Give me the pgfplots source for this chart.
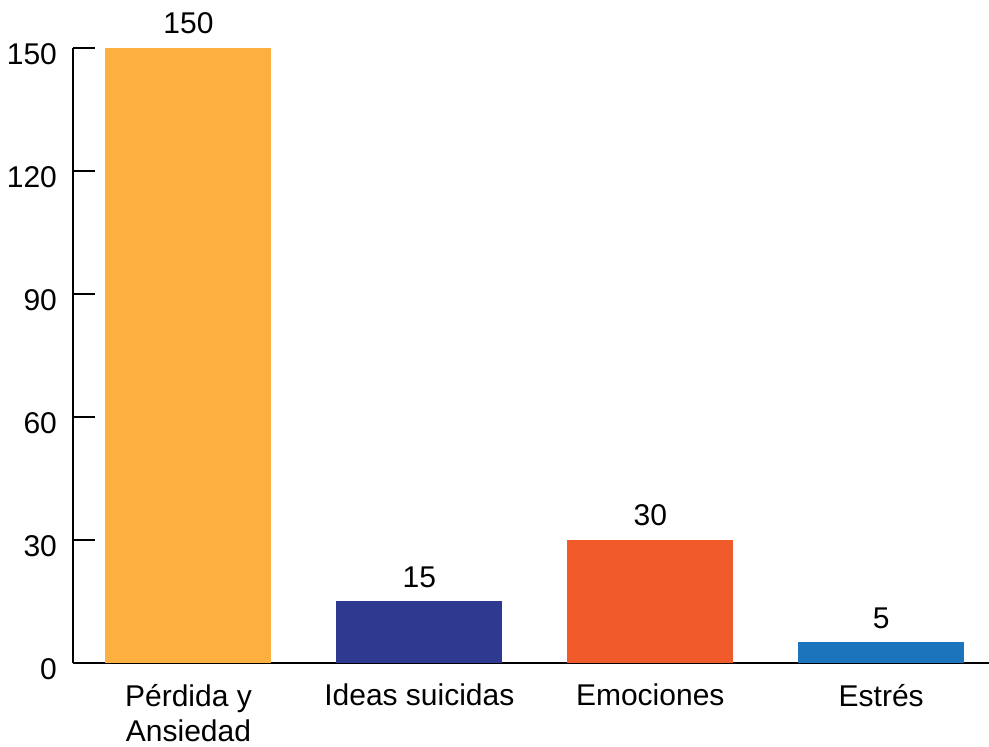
\documentclass[border=0pt]{standalone}
\usepackage{pgfplots}
\pgfplotsset{compat=1.18}
\usepackage{fontspec}
\setmainfont{Liberation Sans}

\definecolor{barA}{HTML}{FBB040}
\definecolor{barB}{HTML}{2E3990}
\definecolor{barC}{HTML}{F15A2B}
\definecolor{barD}{HTML}{1C75BC}

\begin{document}
\begin{tikzpicture}
\begin{axis}[
    scale only axis,
    width=458pt, height=307.5pt,
    xmin=-0.5, xmax=3.467,
    ymin=0, ymax=150,
    axis x line*=bottom,
    axis y line*=left,
    axis line style={line width=1pt, black},
    every tick/.style={black, line width=1pt},
    tick align=inside,
    ytick={0,30,60,90,120,150},
    major tick length=11pt,
    xtick={0,1,2,3},
    xticklabels={{P\'erdida y\\Ansiedad},{Ideas suicidas},{Emociones},{Estr\'es}},
    x tick style={draw=none},
    extra x ticks={0.5,1.5,2.5},
    extra x tick labels={},
    extra x tick style={major tick length=7pt, tick style={black, line width=1pt}},
    ticklabel style={font=\fontsize{15}{17.5}\selectfont},
    /pgf/number format/assume math mode=true,
    yticklabel style={xshift=-4.5pt, yshift=-3pt},
    xticklabel style={align=center, yshift=4pt},
    ybar, bar width=83pt, bar shift=0pt,
    nodes near coords,
    every node near coord/.append style={font=\fontsize{15}{17}\selectfont, black, yshift=3.5pt},
    clip=false,
]
\addplot[draw=none, fill=barA] coordinates {(0,150)};
\addplot[draw=none, fill=barB] coordinates {(1,15)};
\addplot[draw=none, fill=barC] coordinates {(2,30)};
\addplot[draw=none, fill=barD] coordinates {(3,5)};
\end{axis}
\pgfresetboundingbox
\useasboundingbox (-36.5pt,-42pt) rectangle (458pt,331.5pt);
\end{tikzpicture}
\end{document}
